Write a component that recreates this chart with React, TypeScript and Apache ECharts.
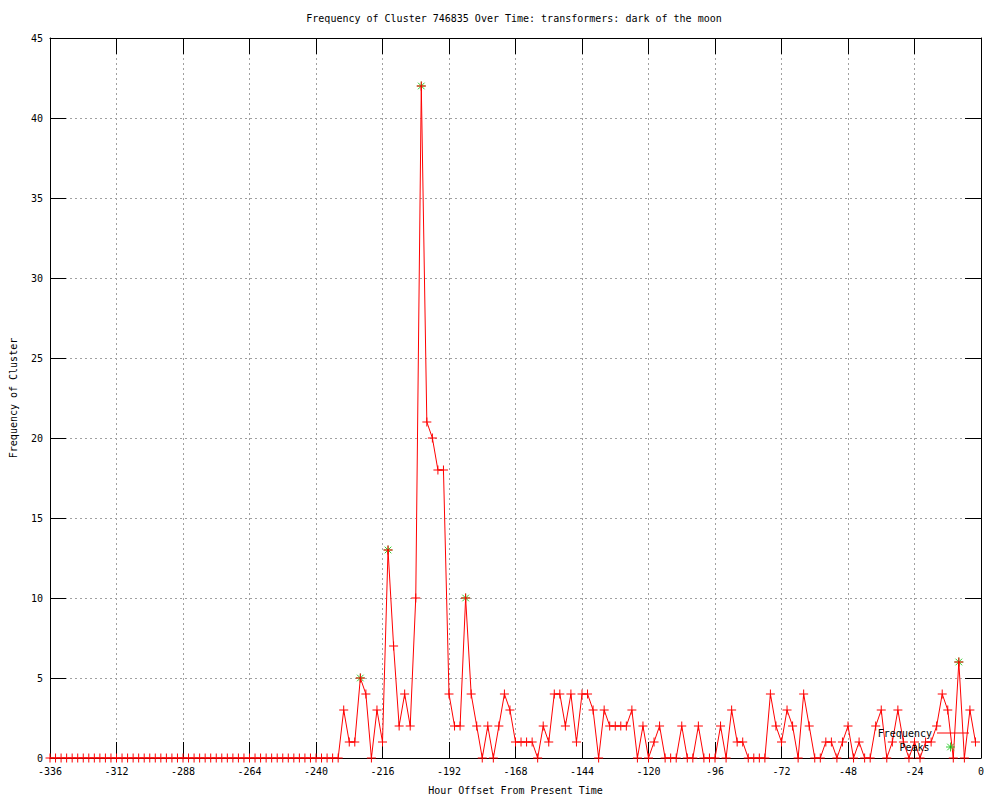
import React, { useEffect, useRef } from "react";
import * as echarts from "echarts";

const TITLE = "Frequency of Cluster 746835 Over Time: transformers: dark of the moon";
const X_NAME = "Hour Offset From Present Time";
const Y_NAME = "Frequency of Cluster";

const START_HOUR = -336;
const STEP_HOURS = 2;

// Frequency values, one every 2 hours from -336 to -2
const frequency: number[] = [
  // -336 .. -232 (53 zeros)
  0, 0, 0, 0, 0, 0, 0, 0, 0, 0,
  0, 0, 0, 0, 0, 0, 0, 0, 0, 0,
  0, 0, 0, 0, 0, 0, 0, 0, 0, 0,
  0, 0, 0, 0, 0, 0, 0, 0, 0, 0,
  0, 0, 0, 0, 0, 0, 0, 0, 0, 0,
  0, 0, 0,
  // -230 .. -192
  3, 1, 1, 5, 4, 0, 3, 1, 13, 7, 2, 4, 2, 10, 42, 21, 20, 18, 18, 4,
  // -190 .. -152
  2, 2, 10, 4, 2, 0, 2, 0, 2, 4, 3, 1, 1, 1, 1, 0, 2, 1, 4, 4,
  // -150 .. -112
  2, 4, 1, 4, 4, 3, 0, 3, 2, 2, 2, 2, 3, 0, 2, 0, 1, 2, 0, 0,
  // -110 .. -72
  0, 2, 0, 0, 2, 0, 0, 0, 2, 0, 3, 1, 1, 0, 0, 0, 0, 4, 2, 1,
  // -70 .. -32
  3, 2, 0, 4, 2, 0, 0, 1, 1, 0, 1, 2, 0, 1, 0, 0, 2, 3, 0, 1,
  // -30 .. -2
  3, 1, 0, 1, 0, 1, 1, 2, 4, 3, 0, 6, 0, 3, 1,
];

const peakHours: number[] = [-224, -214, -202, -186, -8];
const peakValues: number[] = [5, 13, 42, 10, 6];

const xTicks = { min: -336, max: 0, interval: 24 };
const yTicks = { min: 0, max: 45, interval: 5 };

const RED = "#ff0000";
const GREEN = "#00c000";
const FONT = "DejaVu Sans Mono";

const PLUS = "path://M0,4.5L9,4.5M4.5,0L4.5,9";
const STAR = "path://M0,4.5L9,4.5M4.5,0L4.5,9M1.2,1.2L7.8,7.8M7.8,1.2L1.2,7.8";
// legend sample: the star centred in a 32px-wide box (zero-length end points keep the width)
const STAR_ICON =
  "path://M-11.5,4.5L-11.5,4.5M20.5,4.5L20.5,4.5M0,4.5L9,4.5M4.5,0L4.5,9M1.2,1.2L7.8,7.8M7.8,1.2L1.2,7.8";
const LINE_ICON = "path://M0,0L32,0L32,1L0,1Z";

export default function App() {
  const ref = useRef<HTMLDivElement>(null);

  useEffect(() => {
    if (!ref.current) return;
    const chart = echarts.init(ref.current, null, { renderer: "svg" });

    const freqData = frequency.map((v, i) => [START_HOUR + i * STEP_HOURS, v]);
    const peakData = peakHours.map((h, i) => [h, peakValues[i]]);

    const gridLine = { show: true, lineStyle: { color: "#a0a0a0", type: [2, 3], width: 1 } };
    const axisLine = { show: true, onZero: false, lineStyle: { color: "#000", width: 1 } };
    const tick = { show: true, inside: true, length: 16, lineStyle: { color: "#000", width: 1 } };
    const labelStyle = { fontFamily: FONT, fontSize: 10, color: "#000" };

    chart.setOption({
      animation: false,
      backgroundColor: "#fff",
      textStyle: { fontFamily: FONT },
      grid: { left: 50, right: 19, top: 38, bottom: 40, containLabel: false },
      graphic: [
        {
          type: "text",
          x: 514,
          y: 18,
          style: {
            text: TITLE,
            fontFamily: FONT,
            fontSize: 10,
            fill: "#000",
            textAlign: "center",
            textVerticalAlign: "middle",
          },
        },
      ],
      legend: [
        {
          right: 31,
          top: 728,
          orient: "vertical",
          align: "right",
          padding: 0,
          itemWidth: 32,
          itemHeight: 9,
          selectedMode: false,
          textStyle: labelStyle,
          data: [{ name: "Frequency", icon: LINE_ICON, itemStyle: { color: RED, borderWidth: 0 } }],
        },
        {
          right: 31,
          top: 740,
          orient: "vertical",
          align: "right",
          padding: 0,
          itemWidth: 32,
          itemHeight: 9,
          selectedMode: false,
          textStyle: labelStyle,
          data: [{ name: "Peaks", icon: STAR_ICON, itemStyle: { color: "none", borderColor: GREEN, borderWidth: 1 } }],
        },
      ],
      xAxis: [
        {
          type: "value",
          position: "bottom",
          min: xTicks.min,
          max: xTicks.max,
          interval: xTicks.interval,
          name: X_NAME,
          nameLocation: "middle",
          nameGap: 27,
          nameTextStyle: labelStyle,
          axisLine,
          axisTick: tick,
          axisLabel: { ...labelStyle, margin: 8 },
          splitLine: gridLine,
        },
        {
          type: "value",
          position: "top",
          min: xTicks.min,
          max: xTicks.max,
          interval: xTicks.interval,
          axisLine,
          axisTick: tick,
          axisLabel: { show: false },
          splitLine: { show: false },
        },
      ],
      yAxis: [
        {
          type: "value",
          position: "left",
          min: yTicks.min,
          max: yTicks.max,
          interval: yTicks.interval,
          name: Y_NAME,
          nameLocation: "middle",
          nameGap: 32,
          nameRotate: 90,
          nameTextStyle: labelStyle,
          axisLine,
          axisTick: tick,
          axisLabel: { ...labelStyle, margin: 7 },
          splitLine: gridLine,
        },
        {
          type: "value",
          position: "right",
          min: yTicks.min,
          max: yTicks.max,
          interval: yTicks.interval,
          axisLine,
          axisTick: tick,
          axisLabel: { show: false },
          splitLine: { show: false },
        },
      ],
      series: [
        {
          name: "Peaks",
          type: "scatter",
          xAxisIndex: 0,
          yAxisIndex: 0,
          data: peakData,
          symbol: STAR,
          symbolSize: 9,
          itemStyle: { color: "none", borderColor: GREEN, borderWidth: 1 },
          z: 2,
          silent: true,
        },
        {
          name: "Frequency",
          type: "line",
          xAxisIndex: 0,
          yAxisIndex: 0,
          data: freqData,
          symbol: PLUS,
          symbolSize: 9,
          showAllSymbol: true,
          lineStyle: { color: RED, width: 1 },
          itemStyle: { color: "none", borderColor: RED, borderWidth: 1 },
          z: 3,
          silent: true,
        },
      ],
    });

    return () => chart.dispose();
  }, []);

  return (
    <div
      ref={ref}
      style={{ position: "absolute", left: 0, top: 0, width: 1000, height: 800, background: "#fff" }}
    />
  );
}
